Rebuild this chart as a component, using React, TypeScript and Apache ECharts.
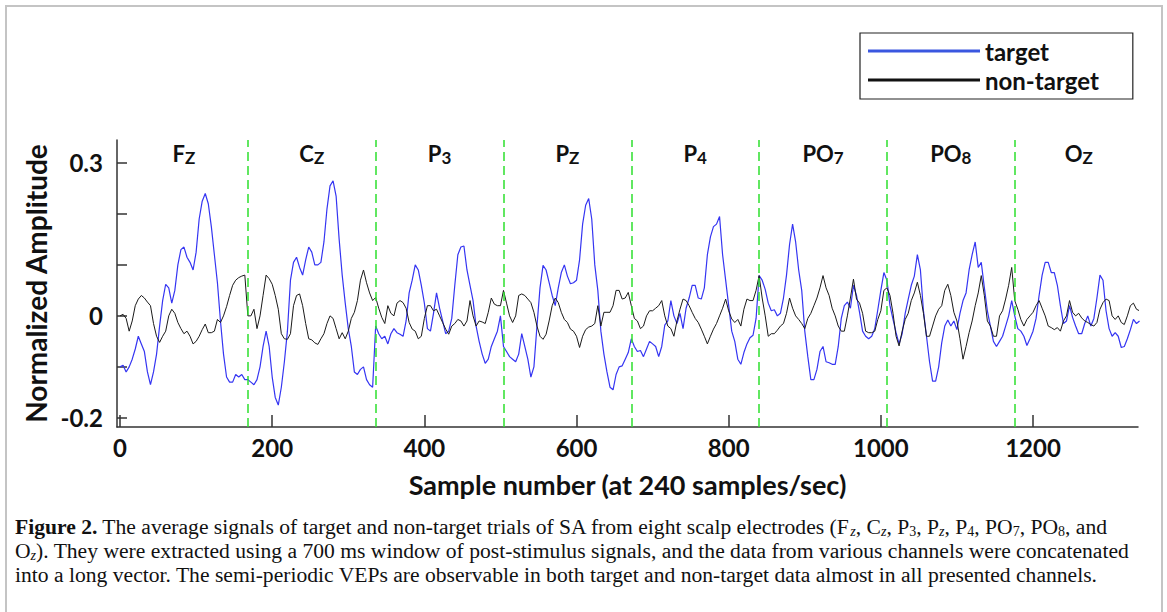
import React, { useEffect, useRef } from "react";
import * as echarts from "echarts";

// ---- data (one value every 4 samples) ----
const SEGMENT_LEN = 168; // 700 ms at 240 samples/sec
const STEP = 4;
const channels = ["Fz", "Cz", "P3", "Pz", "P4", "PO7", "PO8", "Oz"];
const channelMain = ["F", "C", "P", "P", "P", "PO", "PO", "O"];
const channelSub = ["Z", "Z", "3", "Z", "4", "7", "8", "Z"];
const xTicks = [0, 200, 400, 600, 800, 1000, 1200];
const yTicks = [-0.2, -0.1, 0, 0.1, 0.2, 0.3];
const yLabels = [-0.2, 0, 0.3];

const targetFz = [-0.10, -0.097, -0.11, -0.10, -0.085, -0.065, -0.04, -0.055, -0.07, -0.11, -0.135, -0.11, -0.075, -0.02, 0.03, 0.062, 0.055, 0.025, 0.05, 0.10, 0.13, 0.135, 0.115, 0.105, 0.09, 0.125, 0.19, 0.225, 0.24, 0.22, 0.175, 0.12, 0.065, -0.01, -0.075, -0.12, -0.13, -0.13, -0.115, -0.12, -0.115, -0.125];
const targetCz = [-0.125, -0.13, -0.135, -0.125, -0.10, -0.06, -0.03, -0.06, -0.12, -0.16, -0.175, -0.14, -0.09, -0.03, 0.07, 0.105, 0.115, 0.095, 0.08, 0.11, 0.135, 0.125, 0.10, 0.10, 0.105, 0.145, 0.21, 0.255, 0.265, 0.235, 0.15, 0.08, 0.025, -0.025, -0.06, -0.11, -0.115, -0.105, -0.10, -0.125, -0.135, -0.14];
const targetP3 = [-0.02, -0.035, -0.045, -0.04, -0.055, -0.035, -0.025, -0.033, -0.036, -0.04, -0.01, 0.045, 0.07, 0.10, 0.09, 0.06, 0.025, -0.025, -0.03, 0.005, 0.045, 0.015, -0.01, -0.035, -0.03, -0.005, 0.06, 0.12, 0.135, 0.137, 0.09, 0.06, 0.03, -0.02, -0.05, -0.075, -0.093, -0.085, -0.06, -0.045, -0.03, 0.0];
const targetPz = [-0.06, -0.07, -0.08, -0.085, -0.09, -0.075, -0.035, -0.06, -0.085, -0.12, -0.10, -0.02, 0.055, 0.099, 0.09, 0.065, 0.04, 0.02, 0.055, 0.085, 0.10, 0.078, 0.063, 0.065, 0.07, 0.11, 0.18, 0.217, 0.23, 0.19, 0.10, 0.05, -0.03, -0.075, -0.11, -0.14, -0.145, -0.115, -0.10, -0.098, -0.085, -0.072];
const targetP4 = [-0.045, -0.06, -0.07, -0.068, -0.08, -0.065, -0.05, -0.055, -0.06, -0.08, -0.06, -0.018, -0.01, 0.03, 0.0, -0.015, 0.005, -0.025, 0.015, 0.035, 0.06, 0.06, 0.035, 0.033, 0.055, 0.12, 0.155, 0.175, 0.18, 0.195, 0.12, 0.07, 0.02, -0.03, -0.05, -0.085, -0.095, -0.072, -0.055, -0.043, -0.038, -0.005];
const targetPO7 = [0.079, 0.07, 0.052, 0.025, 0.01, 0.012, 0.0, 0.005, 0.035, 0.08, 0.14, 0.18, 0.145, 0.09, 0.05, -0.03, -0.08, -0.125, -0.125, -0.105, -0.07, -0.06, -0.09, -0.092, -0.095, -0.095, -0.06, -0.005, 0.02, 0.027, 0.015, 0.06, 0.04, 0.007, -0.03, -0.04, -0.045, -0.04, -0.025, 0.012, 0.05, 0.085];
const targetPO8 = [0.07, 0.02, -0.007, -0.033, -0.055, -0.035, 0.005, 0.033, 0.06, 0.078, 0.12, 0.09, 0.01, -0.04, -0.09, -0.128, -0.128, -0.10, -0.053, -0.02, -0.008, -0.02, -0.01, -0.027, 0.005, 0.03, 0.045, 0.09, 0.12, 0.145, 0.095, 0.105, 0.056, 0.01, -0.02, -0.05, -0.06, -0.05, -0.04, -0.02, 0.0, 0.03];
const targetOz = [0.0, -0.025, -0.03, -0.04, -0.058, -0.045, -0.03, -0.005, 0.04, 0.08, 0.105, 0.105, 0.085, 0.085, 0.06, 0.02, -0.015, -0.01, 0.02, -0.003, -0.02, -0.035, -0.035, -0.015, 0.0, -0.02, -0.005, 0.035, 0.08, 0.07, 0.01, -0.025, -0.04, -0.033, -0.04, -0.062, -0.06, -0.045, -0.027, -0.007, -0.015, -0.01];

const nonTargetFz = [0.0, 0.003, -0.005, -0.03, -0.01, 0.02, 0.033, 0.04, 0.035, 0.027, 0.02, -0.015, -0.04, -0.052, -0.04, -0.03, 0.0, 0.013, 0.005, -0.013, -0.025, -0.035, -0.03, -0.04, -0.055, -0.05, -0.04, -0.027, -0.016, -0.033, -0.033, -0.03, -0.007, -0.013, 0.0, 0.018, 0.04, 0.06, 0.07, 0.075, 0.078, 0.08];
const nonTargetCz = [0.0, 0.0, 0.013, -0.025, 0.0, 0.04, 0.08, 0.073, 0.062, 0.04, 0.013, -0.035, -0.045, -0.046, -0.035, 0.02, 0.04, 0.043, 0.02, -0.015, -0.045, -0.047, -0.053, -0.056, -0.045, -0.035, -0.015, 0.0, -0.005, -0.025, -0.045, -0.033, -0.045, -0.03, -0.005, 0.007, 0.03, 0.07, 0.09, 0.065, 0.045, 0.03];
const nonTargetP3 = [0.036, 0.015, -0.003, -0.015, 0.02, 0.005, 0.0, 0.025, 0.03, 0.026, 0.015, -0.013, -0.026, -0.03, -0.045, -0.04, -0.005, 0.02, 0.02, 0.01, 0.013, 0.0, -0.013, -0.026, -0.036, -0.02, -0.015, -0.007, -0.01, -0.02, -0.01, 0.03, 0.0, -0.02, -0.01, -0.012, -0.015, 0.007, 0.035, 0.023, 0.02, 0.02];
const nonTargetPz = [0.05, 0.025, 0.0, -0.013, 0.0, 0.04, 0.043, 0.04, 0.033, 0.026, 0.007, -0.02, -0.04, -0.046, -0.036, -0.01, 0.02, 0.035, 0.026, 0.007, -0.007, -0.013, -0.026, -0.03, -0.04, -0.062, -0.04, -0.027, -0.022, -0.02, -0.015, 0.02, -0.02, 0.007, 0.007, 0.007, 0.02, 0.05, 0.05, 0.033, 0.035, 0.046];
const nonTargetP4 = [0.02, -0.005, -0.01, -0.025, -0.02, 0.0, 0.01, 0.01, 0.015, 0.02, 0.03, 0.0, -0.02, -0.025, -0.04, -0.01, 0.013, 0.033, 0.03, 0.02, 0.007, -0.005, -0.013, -0.026, -0.04, -0.055, -0.04, -0.026, -0.015, 0.0, 0.015, 0.033, 0.01, -0.006, -0.013, -0.007, -0.02, 0.013, 0.033, 0.03, 0.03, 0.05];
const nonTargetPO7 = [0.079, 0.035, 0.0, -0.04, -0.035, -0.035, -0.028, -0.02, -0.015, 0.005, 0.035, 0.015, 0.0, -0.007, -0.015, -0.025, -0.005, 0.005, 0.02, 0.035, 0.055, 0.079, 0.055, 0.04, 0.015, 0.0, -0.02, -0.03, -0.03, 0.0, 0.035, 0.072, 0.033, 0.025, 0.005, -0.03, -0.033, -0.033, -0.03, -0.007, 0.01, 0.05];
const nonTargetPO8 = [0.055, 0.04, 0.005, -0.04, -0.059, -0.03, -0.007, 0.005, 0.03, 0.045, 0.066, 0.04, 0.005, -0.04, -0.04, -0.02, 0.0, 0.013, 0.02, 0.05, 0.062, 0.04, 0.007, -0.01, -0.045, -0.085, -0.06, -0.033, -0.01, 0.02, 0.045, 0.079, 0.04, -0.01, -0.02, -0.04, -0.04, 0.0, 0.01, 0.033, 0.06, 0.095];
const nonTargetOz = [0.03, 0.013, -0.007, -0.02, -0.007, 0.0, 0.007, 0.02, 0.03, 0.015, 0.0, -0.02, -0.023, -0.027, -0.023, -0.03, -0.01, 0.0, 0.03, 0.007, 0.0, 0.005, -0.004, -0.01, -0.013, -0.017, -0.02, -0.013, 0.013, 0.026, 0.033, 0.03, 0.0, -0.007, 0.0, -0.013, -0.017, 0.0, 0.02, 0.025, 0.013, 0.01];

const targetChannels = [targetFz, targetCz, targetP3, targetPz, targetP4, targetPO7, targetPO8, targetOz];
const nonTargetChannels = [nonTargetFz, nonTargetCz, nonTargetP3, nonTargetPz, nonTargetP4, nonTargetPO7, nonTargetPO8, nonTargetOz];

const captionLines = [
  "{b|Figure 2.} The average signals of target and non-target trials of SA from eight scalp electrodes (F{si|z}, C{si|z}, P{s|3}, P{si|z}, P{s|4}, PO{s|7}, PO{s|8}, and",
  "O{si|z}). They were extracted using a 700 ms window of post-stimulus signals, and the data from various channels were concatenated",
  "into a long vector. The semi-periodic VEPs are observable in both target and non-target data almost in all presented channels.",
];

function concat(chs: number[][]): number[][] {
  const out: number[][] = [];
  chs.forEach((arr, c) => arr.forEach((v, i) => out.push([c * SEGMENT_LEN + i * STEP, v])));
  return out;
}

const SANS = 'Lato, "Open Sans", sans-serif';
const SERIF = '"Liberation Serif", "DejaVu Serif", serif';
const CAP_SIZE = 21.6;

export default function App() {
  const ref = useRef<HTMLDivElement>(null);
  useEffect(() => {
    if (!ref.current) return;
    const chart = echarts.init(ref.current, undefined, { renderer: "svg" });
    const boundaries = channels.slice(1).map((_, i) => ({ xAxis: (i + 1) * SEGMENT_LEN }));
    const labelPoints = channels.map((c, i) => ({
      name: c,
      coord: [i * SEGMENT_LEN + SEGMENT_LEN / 2, 0.318],
      label: { formatter: `{m|${channelMain[i]}}{s|${channelSub[i]}}` },
    }));
    const captionRich = {
      b: { fontFamily: SERIF, fontSize: CAP_SIZE, fontWeight: "bold", fill: "#111" },
      s: { fontFamily: SERIF, fontSize: 14, fill: "#111", padding: [9, 0, 0, 0] },
      si: { fontFamily: SERIF, fontSize: 14, fontStyle: "italic", fill: "#111", padding: [9, 0, 0, 0] },
    };
    chart.setOption({
      animation: false,
      backgroundColor: "#fff",
      grid: { left: 117, right: 29, top: 140, bottom: 185 },
      legend: {
        orient: "vertical",
        left: 860,
        top: 33,
        icon: "rect",
        itemWidth: 112,
        itemHeight: 3,
        itemGap: 5,
        padding: [6, 34, 7, 8],
        borderColor: "#222",
        borderWidth: 1.2,
        textStyle: { fontFamily: SANS, fontSize: 24, lineHeight: 24, fontWeight: "bold", color: "#111" },
        data: [
          { name: "target", itemStyle: { color: "#3a57e0" } },
          { name: "non-target", itemStyle: { color: "#111" } },
        ],
      },
      xAxis: {
        type: "value",
        min: -4,
        max: 1338,
        name: "Sample number (at 240 samples/sec)",
        nameLocation: "middle",
        nameGap: 44,
        nameTextStyle: { fontFamily: SANS, fontSize: 27, fontWeight: "bold", color: "#111" },
        axisLine: { onZero: false, lineStyle: { color: "#333", width: 1.5 } },
        axisTick: { inside: true, length: 12, customValues: xTicks, lineStyle: { color: "#333", width: 1.5 } },
        axisLabel: {
          customValues: xTicks,
          formatter: (v: number) => String(v),
          fontFamily: SANS,
          fontSize: 24,
          fontWeight: "bold",
          color: "#111",
          margin: 8,
        },
        splitLine: { show: false },
      },
      yAxis: {
        type: "value",
        min: -0.218,
        max: 0.345,
        name: "Normalized Amplitude",
        nameLocation: "middle",
        nameRotate: 90,
        nameGap: 50,
        nameTextStyle: { fontFamily: SANS, fontSize: 28, fontWeight: "bold", color: "#111" },
        axisLine: { show: true, onZero: false, lineStyle: { color: "#333", width: 1.5 } },
        axisTick: { show: true, inside: true, length: 10, customValues: yTicks, lineStyle: { color: "#333", width: 1.5 } },
        axisLabel: {
          customValues: yLabels,
          formatter: (v: number) => (Math.abs(v) < 1e-9 ? "0" : String(v)),
          fontFamily: SANS,
          fontSize: 24,
          fontWeight: "bold",
          color: "#111",
          margin: 14,
        },
        splitLine: { show: false },
      },
      series: [
        {
          name: "target",
          type: "line",
          data: concat(targetChannels),
          showSymbol: false,
          symbol: "none",
          lineStyle: { color: "#3535f2", width: 1.2 },
          itemStyle: { color: "#3535f2" },
          z: 2,
          markLine: {
            silent: true,
            symbol: ["none", "none"],
            label: { show: false },
            lineStyle: { color: "#2ee02e", type: [9, 5], width: 1.5 },
            data: boundaries,
          },
        },
        {
          name: "non-target",
          type: "line",
          data: concat(nonTargetChannels),
          showSymbol: false,
          symbol: "none",
          lineStyle: { color: "#1a1a1a", width: 1 },
          itemStyle: { color: "#1a1a1a" },
          z: 3,
          markPoint: {
            silent: true,
            symbol: "rect",
            symbolSize: 0,
            label: {
              show: true,
              position: "inside",
              rich: {
                m: { fontFamily: SANS, fontSize: 22, fontWeight: "bold", color: "#111" },
                s: { fontFamily: SANS, fontSize: 17, fontWeight: "bold", color: "#111", padding: [8, 0, 0, 0] },
              },
            },
            data: labelPoints,
          },
        },
      ],
      graphic: [
        {
          type: "rect",
          silent: true,
          z: -10,
          shape: { x: 6, y: 6, width: 1156, height: 720 },
          style: { fill: "none", stroke: "#c4c4c4", lineWidth: 2 },
        },
        ...captionLines.map((t, i) => ({
          type: "text",
          left: 15,
          top: 516 + i * 24,
          silent: true,
          style: { text: t, fontFamily: SERIF, fontSize: CAP_SIZE, fill: "#111", rich: captionRich },
        })),
      ],
    });
    return () => chart.dispose();
  }, []);
  return <div ref={ref} style={{ position: "absolute", left: 0, top: 0, width: 1167, height: 612 }} />;
}
